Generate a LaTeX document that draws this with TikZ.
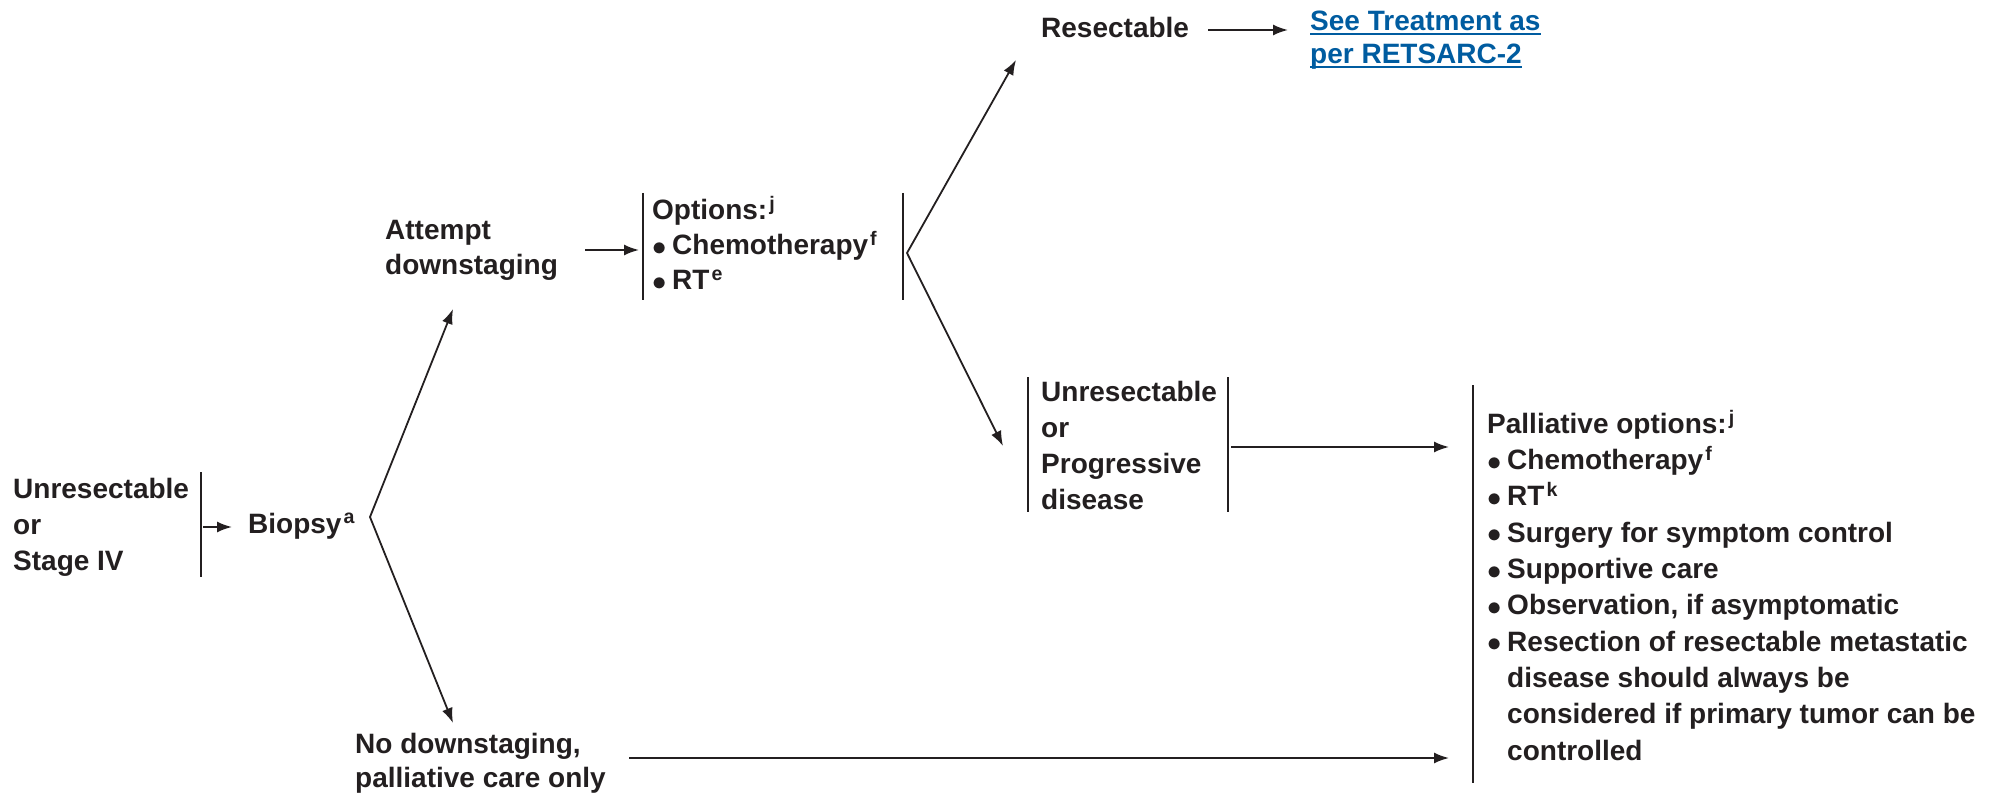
\documentclass[tikz,border=0pt]{standalone}
\usepackage{fontspec}
\setmainfont{Liberation Sans}
\usetikzlibrary{arrows.meta}
\definecolor{txtblack}{RGB}{35,31,32}
\definecolor{linkblue}{RGB}{0,92,160}
\newsavebox{\ulbox}
\newcommand{\ul}[1]{\sbox{\ulbox}{#1}\rlap{\usebox{\ulbox}}\rule[-4pt]{\wd\ulbox}{2pt}}
\newcommand{\sups}[1]{\kern2pt\textsuperscript{#1}}
\newcommand{\bul}{\makebox[20pt][l]{\raisebox{-0.5pt}{\scalebox{1.15}{$\bullet$}}}}
\newcommand{\ind}{\hspace*{20pt}}

\begin{document}
\begin{tikzpicture}[x=1pt,y=-1pt,>={Latex[length=15pt,width=11pt]},
		txt/.style={inner sep=0pt,anchor=base west,align=left,text=txtblack,font=\fontsize{28}{36}\selectfont\bfseries},
		bar/.style={line width=2.6pt,color=txtblack},
		conn/.style={->,line width=1.8pt,color=txtblack}]
	\useasboundingbox (0,0) rectangle (2016,794);
	% texts (anchored at the baseline of their last line)
	\node[txt] (stage) at (13,570) {Unresectable\\or\\Stage IV};
	\node[txt] (biopsy) at (248,533) {Biopsy\sups{a}};
	\node[txt,font=\fontsize{28}{35}\selectfont\bfseries] (attempt) at (385,275) {Attempt\\downstaging};
	\node[txt,font=\fontsize{28}{35}\selectfont\bfseries] (options) at (652,290) {Options:\sups{j}\\\bul Chemotherapy\sups{f}\\\bul RT\sups{e}};
	\node[txt] (resect) at (1041,38) {Resectable};
	\node[txt,text=linkblue,font=\fontsize{28}{33}\selectfont\bfseries] (retsarc) at (1310,64) {\ul{See Treatment as}\\\ul{per RETSARC-2}};
	\node[txt] (progress) at (1041,509) {Unresectable\\or\\Progressive\\disease};
	\node[txt,font=\fontsize{28}{36.3}\selectfont\bfseries] (palliate) at (1487,760) {Palliative options:\sups{j}\\
		\bul Chemotherapy\sups{f}\\
		\bul RT\sups{k}\\
		\bul Surgery for symptom control\\
		\bul Supportive care\\
		\bul Observation, if asymptomatic\\
		\bul Resection of resectable metastatic\\
		\ind disease should always be\\
		\ind considered if primary tumor can be\\
		\ind controlled};
	\node[txt,font=\fontsize{28}{34}\selectfont\bfseries] (nodown) at (355,787) {No downstaging,\\palliative care only};
	% bars
	\foreach \x/\ya/\yb in {201/472/577,643/193/300,903/193/300,1028/377/512,1228/377/512,1473/385/783}
	{
		\draw[bar] (\x,\ya) -- (\x,\yb);
	}
	% connector ends
	\coordinate (stagebar) at (203,527);
	\coordinate (biopsyin) at (232,527);
	\coordinate (fork1) at (370,517);
	\coordinate (attemptin) at (453,309);
	\coordinate (nodownin) at (453,723);
	\coordinate (attemptout) at (585,250);
	\coordinate (optionsin) at (639,250);
	\coordinate (fork2) at (907,253);
	\coordinate (resectin) at (1016,60);
	\coordinate (progressin) at (1003,446);
	\coordinate (resectout) at (1208,30);
	\coordinate (retsarcin) at (1288,30);
	\coordinate (progressout) at (1231,447);
	\coordinate (palliatein) at (1449,447);
	\coordinate (nodownout) at (629,758);
	\coordinate (palliatelow) at (1449,758);
	% connectors
	\draw[conn] (stagebar) -- (biopsyin);
	\draw[conn,<->] (attemptin) -- (fork1) -- (nodownin);
	\draw[conn] (attemptout) -- (optionsin);
	\draw[conn,<->] (resectin) -- (fork2) -- (progressin);
	\draw[conn] (resectout) -- (retsarcin);
	\draw[conn] (progressout) -- (palliatein);
	\draw[conn] (nodownout) -- (palliatelow);
\end{tikzpicture}
\end{document}
